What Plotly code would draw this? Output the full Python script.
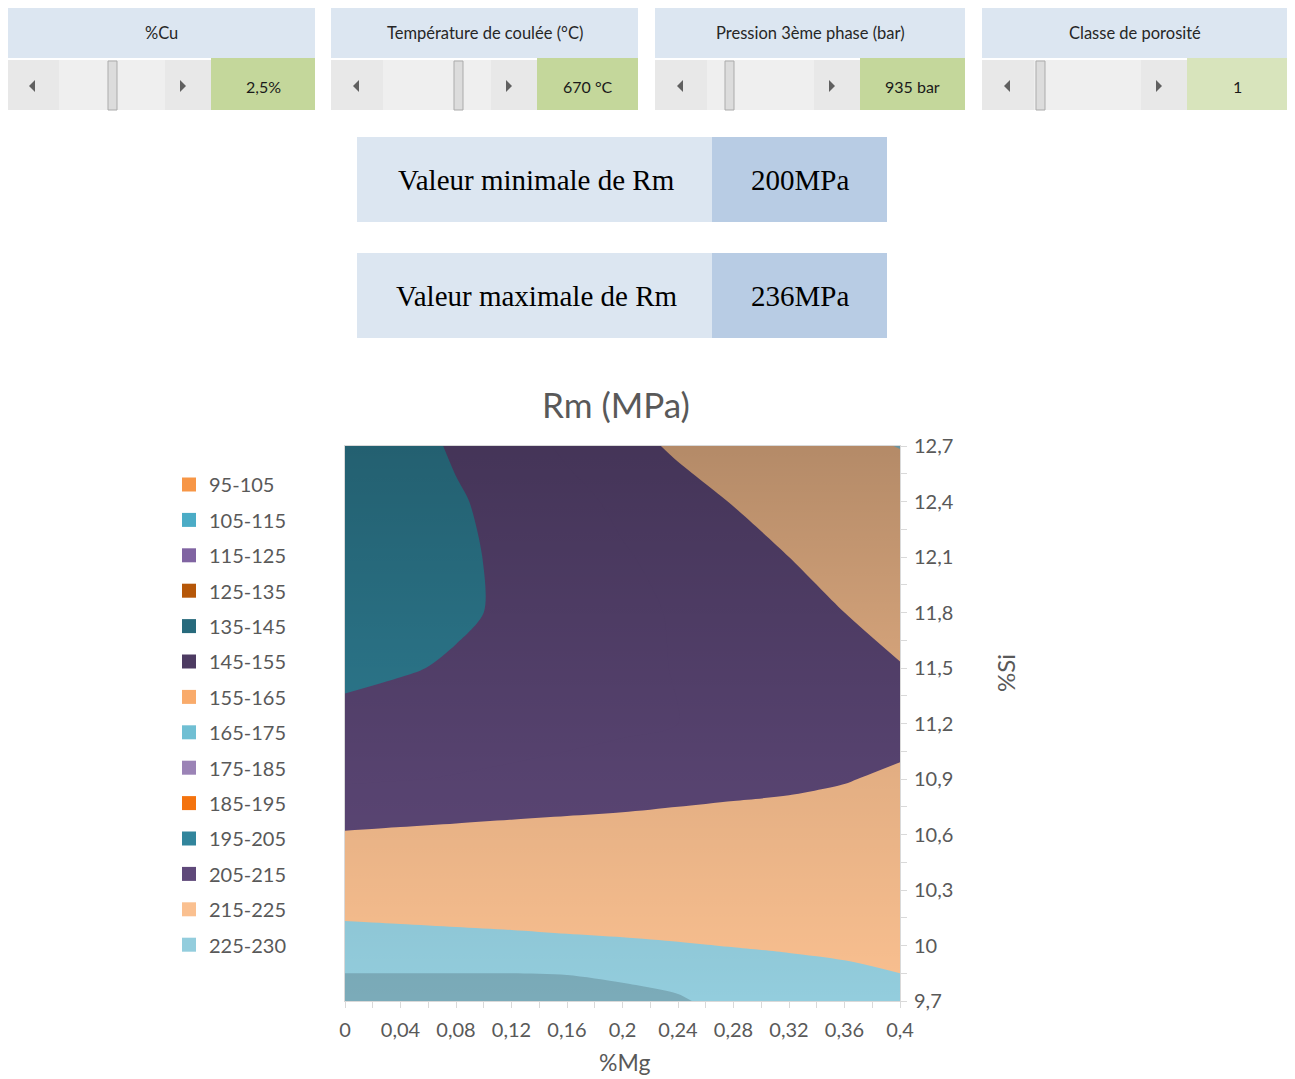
import plotly.graph_objects as go

# ---------------- data ----------------
mg = [0, 0.04, 0.08, 0.12, 0.16, 0.2, 0.24, 0.28, 0.32, 0.36, 0.4]
si = [9.7, 10.0, 10.3, 10.6, 10.9, 11.2, 11.5, 11.8, 12.1, 12.4, 12.7]

# Rm (MPa) estimated on the grid, rows = si (ascending), columns = mg
rm = [
    [232.3, 232.9, 233.4, 233.8, 233.7, 232.2, 230.7, 227.9, 226.3, 226.1, 225.7],
    [227.7, 227.1, 226.6, 226.2, 225.8, 225.5, 225.2, 224.9, 224.8, 224.6, 224.3],
    [221.6, 221.7, 221.8, 221.9, 222.0, 222.1, 222.2, 222.3, 222.4, 222.5, 222.6],
    [215.4, 215.8, 216.2, 216.6, 217.0, 217.4, 217.8, 218.2, 218.6, 219.0, 219.4],
    [209.4, 209.8, 210.2, 210.6, 211.0, 211.4, 212.2, 212.9, 213.5, 214.6, 216.3],
    [207.0, 207.5, 208.0, 208.5, 209.0, 209.5, 210.0, 210.5, 211.0, 211.5, 212.0],
    [203.3, 204.5, 205.6, 206.7, 207.9, 209.0, 210.2, 211.3, 212.5, 213.6, 214.8],
    [201.2, 202.7, 204.2, 205.8, 207.3, 208.9, 210.4, 211.9, 213.5, 215.0, 216.5],
    [200.3, 202.2, 204.1, 206.0, 207.8, 209.6, 211.4, 213.2, 215.0, 216.8, 218.6],
    [200.2, 202.3, 204.5, 206.6, 208.7, 210.9, 213.0, 215.2, 217.3, 219.5, 221.6],
    [200.4, 203.0, 205.6, 208.1, 210.7, 213.2, 215.8, 218.4, 220.9, 223.5, 225.2],
]

legend_bands = ["95-105", "105-115", "115-125", "125-135", "135-145", "145-155",
                "155-165", "165-175", "175-185", "185-195", "195-205", "205-215",
                "215-225", "225-230"]
legend_colors = ["#F79646", "#4BACC6", "#8064A2", "#B65708", "#276A7C", "#4D3B62",
                 "#F9AB6B", "#70BFD3", "#9B83B6", "#F4730E", "#31859C", "#5F497A",
                 "#FAC090", "#93CDDD"]

x_tickvals = [0, 0.04, 0.08, 0.12, 0.16, 0.2, 0.24, 0.28, 0.32, 0.36, 0.4]
x_ticktext = ["0", "0,04", "0,08", "0,12", "0,16", "0,2", "0,24", "0,28", "0,32", "0,36", "0,4"]
y_tickvals = [9.7, 10.0, 10.3, 10.6, 10.9, 11.2, 11.5, 11.8, 12.1, 12.4, 12.7]
y_ticktext = ["9,7", "10", "10,3", "10,6", "10,9", "11,2", "11,5", "11,8", "12,1", "12,4", "12,7"]

slider_labels = ["%Cu", "Température de coulée (°C)", "Pression 3ème phase (bar)", "Classe de porosité"]
slider_values = ["2,5%", "670 °C", "935 bar", "1"]

rm_min = 200
rm_max = 236
box_labels = ["Valeur minimale de Rm", "Valeur maximale de Rm"]
box_values = [f"{rm_min}MPa", f"{rm_max}MPa"]

# ---------------- styling ----------------
OFF = 8  # page body margin
W, H = 1295 - OFF, 1079 - OFF
PL, PR, PT, PB = 345, 900, 446, 1001  # plot area in reference pixels
SANS = "Lato, 'Open Sans', sans-serif"
SERIF = "'Liberation Serif', 'DejaVu Serif', serif"
GREY = "#595959"


def px(x):
    return (x - PL) / (PR - PL)


def py(y):
    return (PB - y) / (PB - PT)


shapes = []
annotations = []


def rect(x0, y0, x1, y1, fill, line_color=None, lw=0):
    shapes.append(dict(type="rect", xref="paper", yref="paper",
                       x0=px(x0), x1=px(x1), y0=py(y1), y1=py(y0),
                       fillcolor=fill,
                       line=dict(width=lw, color=line_color or fill)))


def tri(points, fill):
    path = "M " + " L ".join(f"{px(a)},{py(b)}" for a, b in points) + " Z"
    shapes.append(dict(type="path", xref="paper", yref="paper", path=path,
                       fillcolor=fill, line=dict(width=0)))


def text(x, y, s, size, family=SANS, color="#262626", xanchor="center", angle=0):
    annotations.append(dict(x=px(x), y=py(y), xref="paper", yref="paper", text=s,
                            showarrow=False, xanchor=xanchor, yanchor="middle",
                            textangle=angle,
                            font=dict(size=size, family=family, color=color)))


# sliders
panels = [(7, 315, 211, 108), (331, 638, 537, 454), (655, 965, 860, 725), (982, 1288, 1187, 1036)]
green = ["#C4D79B", "#C4D79B", "#C4D79B", "#D8E4BC"]
for i, (x0, x1, gx, tx) in enumerate(panels):
    rect(x0, 6, x1, 58, "#DCE6F1")
    rect(x0, 60, gx, 110, "#EFEFEF")
    rect(x0, 60, x0 + 52, 110, "#E8E8E8")
    rect(gx - 46, 60, gx, 110, "#E8E8E8")
    rect(tx, 61, tx + 9, 110, "#DCDCDC", "#ABABAB", 1)
    rect(gx, 58, x1, 110, green[i])
    lx, rx, cy = x0 + 25, gx - 28, 86
    tri([(lx + 3, cy - 6), (lx + 3, cy + 6), (lx - 3, cy)], "#606060")
    tri([(rx - 3, cy - 6), (rx - 3, cy + 6), (rx + 3, cy)], "#606060")
    text((x0 + x1) / 2, 33, slider_labels[i], 16.5)
    text((gx + x1) / 2, 86, slider_values[i], 16, color="#1a1a1a")

# min / max boxes
for i, (y0, y1) in enumerate([(137, 222), (253, 338)]):
    rect(357, y0, 712, y1, "#DCE6F1")
    rect(712, y0, 887, y1, "#B8CCE4")
    text(536, (y0 + y1) / 2, box_labels[i], 29, family=SERIF, color="#000000")
    text(800, (y0 + y1) / 2, box_values[i], 29, family=SERIF, color="#000000")

# axis titles / chart title
text(616, 404, "Rm (MPa)", 35, color=GREY)
text(624, 1062, "%Mg", 23, color=GREY)
text(1005, 673, "%Si", 24, color=GREY, angle=-90)

# ---------------- traces ----------------
band_cols = ["#31859C", "#31859C", "#5F497A", "#5F497A", "#FAC090", "#FAC090", "#93CDDD", "#7BABB9"]
cscale = []
for i, c in enumerate(band_cols):
    cscale.append([i / len(band_cols), c])
    cscale.append([(i + 1) / len(band_cols), c])

fig = go.Figure()
fig.add_trace(go.Contour(
    x=mg, y=si, z=rm,
    contours=dict(start=200, end=235, size=5, coloring="fill", showlines=False),
    colorscale=cscale, showscale=False, line=dict(width=0, smoothing=0.8),
    hoverinfo="skip", showlegend=False))

# 3D-like shading of the surface (darker toward high %Si)
x0d, x1d, y0d, y1d = min(mg), max(mg), min(si), max(si)
fig.add_trace(go.Scatter(
    x=[x0d, x1d, x1d, x0d, x0d], y=[y0d, y0d, y1d, y1d, y0d],
    mode="lines", fill="toself", line=dict(width=0),
    fillgradient=dict(type="vertical",
                      colorscale=[[0, "rgba(0,0,0,0)"], [0.4, "rgba(0,0,0,0.09)"], [1, "rgba(0,0,0,0.28)"]]),
    hoverinfo="skip", showlegend=False))

for lab, col in zip(legend_bands, legend_colors):
    fig.add_trace(go.Scatter(x=[None], y=[None], mode="markers", name=lab, legendgroup=lab,
                             marker=dict(symbol="square", size=14, color=col)))

fig.update_layout(
    width=W, height=H,
    margin=dict(l=PL - OFF, r=(W + OFF) - PR, t=PT - OFF, b=(H + OFF) - PB),
    paper_bgcolor="white", plot_bgcolor="white",
    shapes=shapes, annotations=annotations,
    showlegend=True,
    legend=dict(x=px(169), y=py(465), xanchor="left", yanchor="top",
                font=dict(size=20, family=SANS, color=GREY),
                traceorder="grouped", tracegroupgap=6.4, bgcolor="rgba(0,0,0,0)"),
    xaxis=dict(range=[0, 0.4], tickmode="array", tickvals=x_tickvals, ticktext=x_ticktext,
               ticks="outside", ticklen=6, tickcolor="#D9D9D9", ticklabelstandoff=5,
               minor=dict(tickmode="linear", tick0=0, dtick=0.02, ticks="outside", ticklen=6, tickcolor="#D9D9D9"),
               showgrid=False, zeroline=False, showline=True, linecolor="#D9D9D9", mirror=True,
               tickfont=dict(size=20, family=SANS, color=GREY)),
    yaxis=dict(range=[9.7, 12.7], side="right", tickmode="array", tickvals=y_tickvals, ticktext=y_ticktext,
               ticks="outside", ticklen=6, tickcolor="#D9D9D9", ticklabelstandoff=3,
               minor=dict(tickmode="linear", tick0=9.7, dtick=0.15, ticks="outside", ticklen=6, tickcolor="#D9D9D9"),
               showgrid=False, zeroline=False, showline=True, linecolor="#D9D9D9", mirror=True,
               tickfont=dict(size=20, family=SANS, color=GREY)),
)

fig.write_html("out.html")
